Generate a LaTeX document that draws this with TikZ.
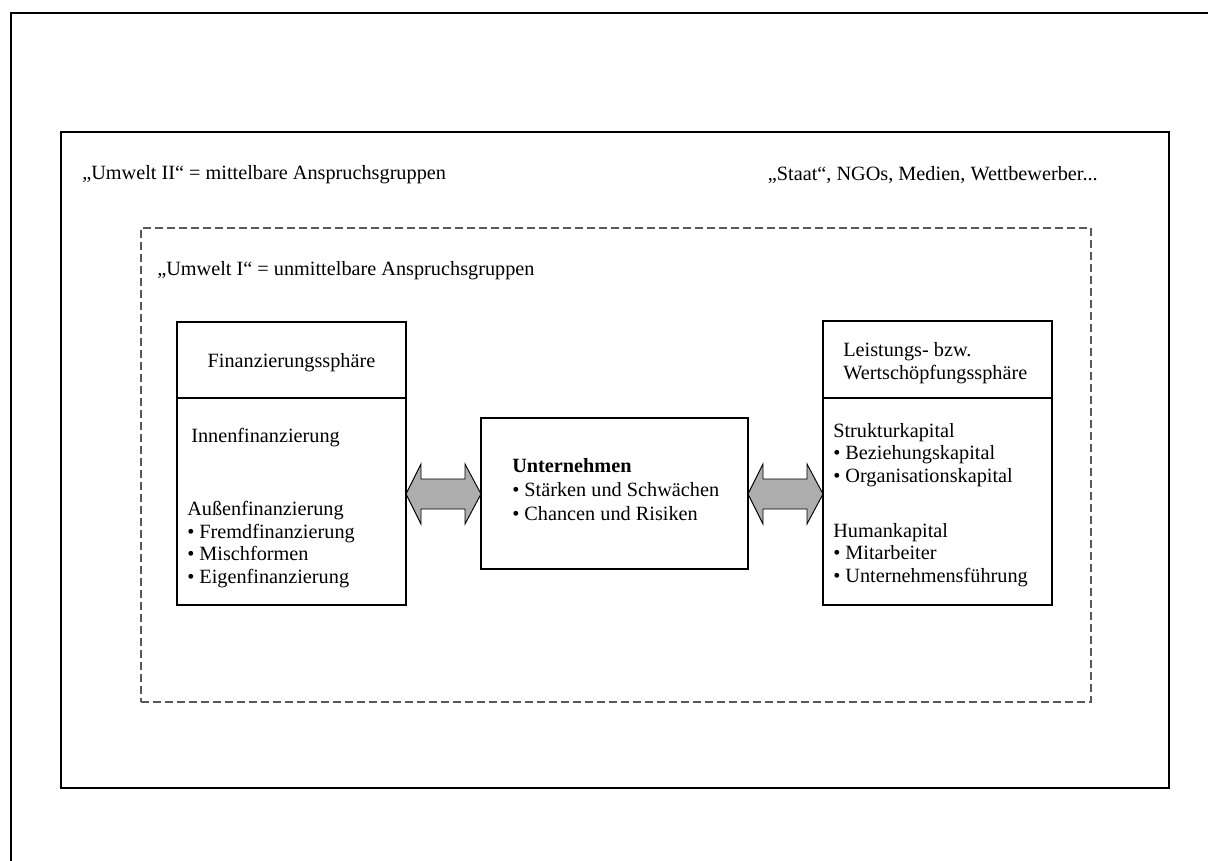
\documentclass[tikz,border=0pt]{standalone}
\usepackage{fontspec}
\setmainfont{Liberation Serif}
\begin{document}
\begin{tikzpicture}[x=0.75pt,y=-0.75pt,
  every node/.style={font=\fontsize{15.2}{17}\selectfont, inner sep=0pt},
  box/.style={draw=black, line width=0.85pt, fill=none},
  txt/.style={anchor=west, align=left},
  dbarrow/.style={draw=black, line width=0.7pt, fill=black!32},
  dashbox/.style={draw=black!65, line width=1.1pt, dash pattern=on 6pt off 3pt}]
\useasboundingbox (0,0) rectangle (1208,861);
% outer frame (top and left only)
\coordinate (fA) at (11,861);
\coordinate (fB) at (11,13);
\coordinate (fC) at (1208,13);
\draw[line width=2.2pt] (fA) -- (fB) -- (fC);
% Umwelt II box
\node[box, minimum width=831pt, minimum height=492pt] (u2) at (615,460) {};
\node[txt] (u2t) at (82,175) {„Umwelt II“ = mittelbare Anspruchsgruppen};
\node[anchor=east] (u2r) at (1098,175) {„Staat“, NGOs, Medien, Wettbewerber...};
% Umwelt I dashed box
\node[dashbox, minimum width=712.5pt, minimum height=355.5pt] (u1) at (616,465) {};
\node[txt] (u1t) at (157,271) {„Umwelt I“ = unmittelbare Anspruchsgruppen};
% Finanzierung box
\node[box, minimum width=171.75pt, minimum height=212.25pt] (fin) at (291.5,463.5) {};
\coordinate (finL) at (177,398);
\coordinate (finR) at (406,398);
\draw[line width=0.85pt] (finL) -- (finR);
\node (finh) at (291.5,363) {Finanzierungssphäre};
\node[txt] (innen) at (191,438) {Innenfinanzierung};
\node[txt] (aussen) at (187,544.5) {Außenfinanzierung\\• Fremdfinanzierung\\• Mischformen\\• Eigenfinanzierung};
% Leistung box
\node[box, minimum width=171.75pt, minimum height=213pt] (lei) at (937.5,463) {};
\coordinate (leiL) at (823,398);
\coordinate (leiR) at (1052,398);
\draw[line width=0.85pt] (leiL) -- (leiR);
\node[txt] (leih) at (843,363) {Leistungs- bzw.\\Wertschöpfungssphäre};
\node[txt] (struk) at (833,455) {Strukturkapital\\• Beziehungskapital\\• Organisationskapital};
\node[txt] (human) at (833,555) {Humankapital\\• Mitarbeiter\\• Unternehmensführung};
% Unternehmen box
\node[box, minimum width=200.25pt, minimum height=113.25pt] (unt) at (614.5,493.5) {};
\node[txt, font=\fontsize{15.2}{18}\selectfont] (untt) at (512,490) {\textbf{Unternehmen}\\• Stärken und Schwächen\\• Chancen und Risiken};
% double arrows
\draw[dbarrow] (406,494) -- (421,464) -- (421,479) -- (465,479) -- (465,464) -- (481,494)
  -- (465,524) -- (465,509) -- (421,509) -- (421,524) -- cycle;
\draw[dbarrow] (748,494) -- (763,464) -- (763,479) -- (807,479) -- (807,464) -- (823,494)
  -- (807,524) -- (807,509) -- (763,509) -- (763,524) -- cycle;
\end{tikzpicture}
\end{document}
